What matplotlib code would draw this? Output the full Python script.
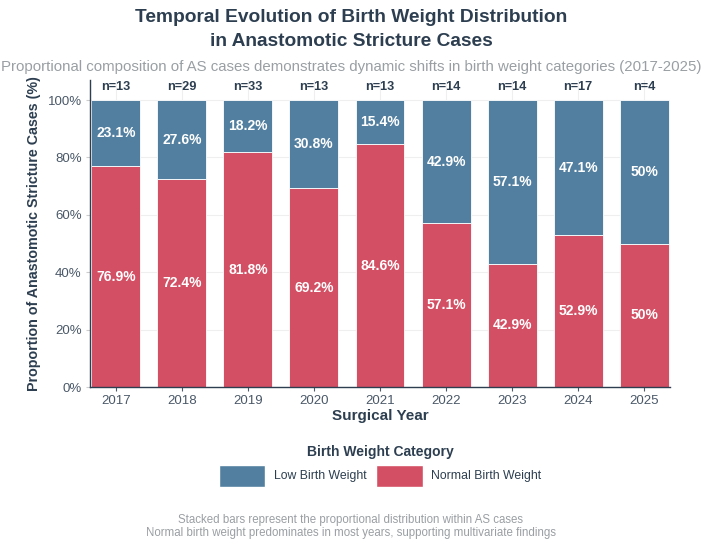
import matplotlib
matplotlib.use("Agg")
import matplotlib.pyplot as plt
from matplotlib.patches import Patch
import numpy as np

# data
years = ["2017", "2018", "2019", "2020", "2021", "2022", "2023", "2024", "2025"]
n_cases = [13, 29, 33, 13, 13, 14, 14, 17, 4]
normal_pct = [76.9, 72.4, 81.8, 69.2, 84.6, 57.1, 42.9, 52.9, 50.0]
low_pct = [23.1, 27.6, 18.2, 30.8, 15.4, 42.9, 57.1, 47.1, 50.0]

blue = "#527FA0"
red = "#D34F63"
dark = "#2C3E50"
tickc = "#4A5868"

plt.rcParams["font.family"] = ["Liberation Sans", "DejaVu Sans"]

fig = plt.figure(figsize=(7.02, 5.4), dpi=100)
# axes box: x 90..670 px, y 80..387 px
ax = fig.add_axes([90 / 702, 1 - 387 / 540, 580 / 702, 307 / 540])

x = np.arange(len(years))
ax.bar(x, normal_pct, width=0.74, color=red, edgecolor="white", linewidth=0.6, zorder=2)
ax.bar(x, low_pct, bottom=normal_pct, width=0.74, color=blue, edgecolor="white", linewidth=0.6, zorder=2)


def fmt(v):
    # whole numbers shown without a decimal, like the source
    return f"{v:g}%"


for i in range(len(years)):
    ax.text(x[i], normal_pct[i] / 2, fmt(normal_pct[i]), ha="center", va="center",
            color="white", fontsize=10, fontweight="bold", zorder=3)
    ax.text(x[i], normal_pct[i] + low_pct[i] / 2, fmt(low_pct[i]), ha="center", va="center",
            color="white", fontsize=10, fontweight="bold", zorder=3)
    ax.text(x[i], 104.6, f"n={n_cases[i]}", ha="center", va="center",
            color=dark, fontsize=9.2, fontweight="bold")

ax.set_xlim(-0.39, len(years) - 0.61)
ax.set_ylim(0, 107)
ax.set_yticks([0, 20, 40, 60, 80, 100])
ax.set_yticklabels(["0%", "20%", "40%", "60%", "80%", "100%"])
ax.set_xticks(x)
ax.set_xticklabels(years)
ax.tick_params(colors=tickc, labelcolor=tickc, labelsize=9.5, length=3, width=0.8, pad=3)
ax.tick_params(axis="y", colors="#cccccc", labelcolor=tickc)
ax.grid(axis="both", color="#efefef", linewidth=0.8, zorder=0)
ax.set_axisbelow(True)
for s in ["top", "right"]:
    ax.spines[s].set_visible(False)
for s in ["left", "bottom"]:
    ax.spines[s].set_color(dark)
    ax.spines[s].set_linewidth(1.0)

ax.set_xlabel("Surgical Year", fontsize=11, fontweight="bold", color=dark, labelpad=1)
ax.set_ylabel("Proportion of Anastomotic Stricture Cases (%)", fontsize=10.3,
              fontweight="bold", color=dark, labelpad=5)

fig.text(0.5, 1 - 17 / 540, "Temporal Evolution of Birth Weight Distribution",
         ha="center", va="center", fontsize=13.8, fontweight="bold", color=dark)
fig.text(0.5, 1 - 42 / 540, "in Anastomotic Stricture Cases",
         ha="center", va="center", fontsize=13.8, fontweight="bold", color=dark)
fig.text(0.5, 1 - 67 / 540, "Proportional composition of AS cases demonstrates dynamic shifts in birth weight categories (2017-2025)",
         ha="center", va="center", fontsize=10.8, color="#999fa3")

handles = [Patch(facecolor=blue, edgecolor="white", label="Low Birth Weight"),
           Patch(facecolor=red, edgecolor="white", label="Normal Birth Weight")]
leg = fig.legend(handles=handles, loc="upper center", bbox_to_anchor=(380 / 702, 1 - 436 / 540), ncol=2,
                 frameon=False, fontsize=8.8, handlelength=3.8, handleheight=2.4,
                 columnspacing=0.8, handletextpad=0.7, borderpad=0.2,
                 title="Birth Weight Category")
leg.get_title().set_fontweight("bold")
leg.get_title().set_fontsize(10)
leg.get_title().set_color(dark)
for t in leg.get_texts():
    t.set_color(dark)

fig.text(0.5, 1 - 520 / 540, "Stacked bars represent the proportional distribution within AS cases",
         ha="center", va="center", fontsize=8.3, color="#9a9fa3")
fig.text(0.5, 1 - 533 / 540, "Normal birth weight predominates in most years, supporting multivariate findings",
         ha="center", va="center", fontsize=8.3, color="#9a9fa3")

fig.savefig("out.png", dpi=100, facecolor="white")
